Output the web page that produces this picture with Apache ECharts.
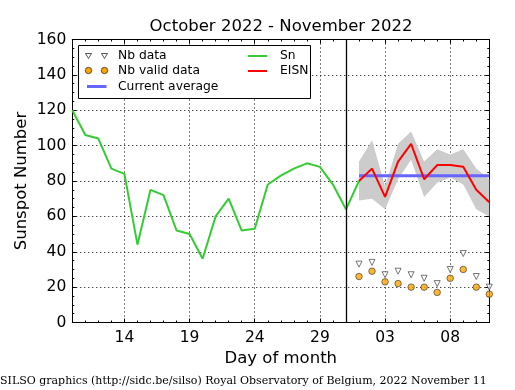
<!DOCTYPE html>
<html>
<head>
<meta charset="utf-8">
<script src="https://cdn.jsdelivr.net/npm/echarts@6/dist/echarts.min.js"></script>
<style>html,body{margin:0;padding:0;background:#fff}#c{width:515px;height:390px}</style>
</head>
<body>
<div id="c"></div>
<script>
// ---- data ----
const dates = ['10','11','12','13','14','15','16','17','18','19','20','21','22','23','24','25','26','27','28','29','30','31',
               '01','02','03','04','05','06','07','08','09','10','11'];
const tickLabels = ['14','19','24','29','03','08'];
const yTickLabels = [0,20,40,60,80,100,120,140,160];
const sn = [120,106,104,87,84,44,75,72,52,50,36,60,70,52,53,78,83,87,90,88,78,64,80];
const eisn = [80,87,71,91,101,81,89,89,88,75,68];
const eisnUpper = [91,103,77,101,108,91,98,95,98,87,81];
const eisnLower = [69,70,64,81,92,71,79,82,78,64,60];
const nbData = [33,34,27,29,27,25,22,30,39,26,20];
const nbValid = [26,29,23,22,20,20,17,25,30,20,16];
const currentAverage = 83;

// ---- derived ----
const FONT = 'DejaVu Sans';
const novStart = 22;      // index of Nov 01 in dates
const octEnd = 21;        // index of Oct 31
const xMax = dates.length - 1;
const majorX = tickLabels.map(t => dates.indexOf(t, t === '03' || t === '08' ? novStart : 0));
const minorX = dates.map((d, i) => i);
const minorY = []; for (let v = 0; v <= 160; v += 5) minorY.push(v);
const Y_MIN = 0, Y_MAX = 160;

const dotted = {show: true, lineStyle: {color: '#000', width: 1, type: [1, 3]}};
function xAx(pos, custom, len, labels, split) {
  return {
    type: 'value', position: pos, min: 0, max: xMax,
    axisLine: {show: labels || pos === 'top', onZero: false, lineStyle: {color: '#000', width: 1}},
    axisTick: {show: true, inside: true, length: len, customValues: custom, lineStyle: {color: '#000', width: 1}},
    axisLabel: labels ? {show: true, customValues: custom, margin: 7, color: '#000', fontFamily: FONT, fontSize: 15.5,
      formatter: v => dates[Math.round(v)]} : {show: false},
    splitLine: split ? dotted : {show: false}
  };
}
function yAx(pos, custom, len, labels, split) {
  return {
    type: 'value', position: pos, min: Y_MIN, max: Y_MAX,
    axisLine: {show: labels || pos === 'right', onZero: false, lineStyle: {color: '#000', width: 1}},
    axisTick: {show: true, inside: true, length: len, customValues: custom, lineStyle: {color: '#000', width: 1}},
    axisLabel: labels ? {show: true, customValues: custom, margin: 6, color: '#000', fontFamily: FONT, fontSize: 15.5,
      verticalAlign: 'middle', padding: [0, 0, 3.6, 0]} : {show: false},
    splitLine: split ? dotted : {show: false}
  };
}

const xAxes = [
  Object.assign(xAx('bottom', majorX, 4, true, true), {name: 'Day of month', nameLocation: 'middle', nameGap: 26,
    nameTextStyle: {color: '#000', fontFamily: FONT, fontSize: 16.5}}),
  xAx('bottom', minorX, 2, false, false),
  xAx('top', majorX, 4, false, false),
  xAx('top', minorX, 2, false, false)
];
const yAxes = [
  Object.assign(yAx('left', yTickLabels, 4, true, true), {name: 'Sunspot Number', nameLocation: 'middle', nameGap: 42,
    nameMoveOverlap: false, nameTextStyle: {color: '#000', fontFamily: FONT, fontSize: 16.5}}),
  yAx('left', minorY, 2, false, false),
  yAx('right', yTickLabels, 4, false, false),
  yAx('right', minorY, 2, false, false)
];

const pts = (arr, start) => arr.map((v, i) => [start + i, v]);

const chart = echarts.init(document.getElementById('c'), null, {renderer: 'canvas'});
chart.setOption({
  animation: false,
  backgroundColor: '#fff',
  grid: {left: 72.3, right: 25.7, top: 39.5, bottom: 67.5},
  xAxis: xAxes,
  yAxis: yAxes,
  series: [
    {type: 'custom', name: 'band', data: [[novStart, eisnUpper[0]]], silent: true, z: 1,
     renderItem: function (params, api) {
       const points = [];
       eisnUpper.forEach((v, i) => points.push(api.coord([novStart + i, v])));
       for (let i = eisnLower.length - 1; i >= 0; i--) points.push(api.coord([novStart + i, eisnLower[i]]));
       return {type: 'polygon', shape: {points: points}, style: {fill: '#cccccc'}};
     }},
    {type: 'line', name: 'Sn', data: pts(sn, 0), symbol: 'none', lineStyle: {color: '#33cc33', width: 2}, z: 3,
     markLine: {silent: true, symbol: 'none', label: {show: false}, lineStyle: {color: '#000', width: 1.3, type: 'solid'},
       data: [{xAxis: octEnd}]}},
    {type: 'line', name: 'Current average', data: [[novStart, currentAverage], [xMax, currentAverage]], symbol: 'none',
     lineStyle: {color: '#6666ff', width: 3}, z: 4},
    {type: 'line', name: 'EISN', data: pts(eisn, novStart), symbol: 'none', lineStyle: {color: '#ff0000', width: 2}, z: 5},
    {type: 'scatter', name: 'Nb data', data: pts(nbData, novStart), symbol: 'triangle', symbolRotate: 180, symbolSize: 6,
     itemStyle: {color: '#ffffff', borderColor: '#555555', borderWidth: 1}, z: 6},
    {type: 'scatter', name: 'Nb valid data', data: pts(nbValid, novStart), symbol: 'circle', symbolSize: 6.5,
     itemStyle: {color: '#ffa500', borderColor: '#333333', borderWidth: 0.8}, z: 6}
  ],
  graphic: [
    {type: 'text', x: 281, y: 27, style: {text: 'October 2022 - November 2022', font: '16.5px "DejaVu Sans"', fill: '#000',
      textAlign: 'center', textVerticalAlign: 'middle'}},
    {type: 'text', x: 0, y: 381, style: {text: 'SILSO graphics (http://sidc.be/silso) Royal Observatory of Belgium, 2022 November 11',
      font: '11px "DejaVu Serif"', fill: '#000', textAlign: 'left', textVerticalAlign: 'middle'}},
    // legend box
    {type: 'rect', shape: {x: 78.5, y: 45.5, width: 232, height: 53}, style: {fill: '#fff', stroke: '#000', lineWidth: 1}, z: 10},
    {type: 'polygon', shape: {points: [[85.5, 53.5], [91.5, 53.5], [88.5, 58.5]]}, style: {fill: '#fff', stroke: '#555', lineWidth: 1}, z: 11},
    {type: 'polygon', shape: {points: [[101.5, 53.5], [107.5, 53.5], [104.5, 58.5]]}, style: {fill: '#fff', stroke: '#555', lineWidth: 1}, z: 11},
    {type: 'circle', shape: {cx: 88.5, cy: 70.5, r: 3.2}, style: {fill: '#ffa500', stroke: '#333', lineWidth: 0.8}, z: 11},
    {type: 'circle', shape: {cx: 104.5, cy: 70.5, r: 3.2}, style: {fill: '#ffa500', stroke: '#333', lineWidth: 0.8}, z: 11},
    {type: 'line', shape: {x1: 87, y1: 86.5, x2: 106.5, y2: 86.5}, style: {stroke: '#6666ff', lineWidth: 3}, z: 11},
    {type: 'line', shape: {x1: 248, y1: 56, x2: 267, y2: 56}, style: {stroke: '#33cc33', lineWidth: 2}, z: 11},
    {type: 'line', shape: {x1: 248, y1: 71, x2: 267, y2: 71}, style: {stroke: '#ff0000', lineWidth: 2}, z: 11},
    {type: 'text', x: 118, y: 56, style: {text: 'Nb data', font: '12.3px "DejaVu Sans"', fill: '#000', textVerticalAlign: 'middle'}, z: 11},
    {type: 'text', x: 118, y: 71, style: {text: 'Nb valid data', font: '12.3px "DejaVu Sans"', fill: '#000', textVerticalAlign: 'middle'}, z: 11},
    {type: 'text', x: 118, y: 87, style: {text: 'Current average', font: '12.3px "DejaVu Sans"', fill: '#000', textVerticalAlign: 'middle'}, z: 11},
    {type: 'text', x: 280, y: 56, style: {text: 'Sn', font: '12.3px "DejaVu Sans"', fill: '#000', textVerticalAlign: 'middle'}, z: 11},
    {type: 'text', x: 280, y: 71, style: {text: 'EISN', font: '12.3px "DejaVu Sans"', fill: '#000', textVerticalAlign: 'middle'}, z: 11}
  ]
});
</script>
</body>
</html>
